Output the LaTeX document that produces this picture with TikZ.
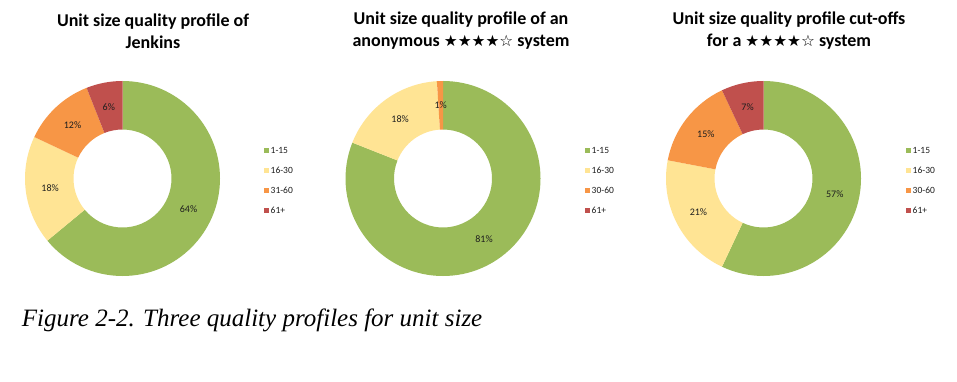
\documentclass[tikz,border=0pt]{standalone}
\usepackage{fontspec}
\setmainfont{Carlito}
\newfontfamily\capfont{Liberation Serif}
\newfontfamily\starfont{DejaVu Sans}
\definecolor{cgreen}{RGB}{155,187,89}
\definecolor{cyellow}{RGB}{255,228,148}
\definecolor{corange}{RGB}{247,150,70}
\definecolor{cred}{RGB}{192,80,77}
\definecolor{ctext}{RGB}{30,30,30}
\newcommand\donutseg[3]{\fill[#3] (#1:97.5) arc[start angle=#1,end angle=#2,radius=97.5] -- (#2:49) arc[start angle=#2,end angle=#1,radius=49] -- cycle;}
\newcommand\stars{{\starfont\fontsize{15.5}{18}\selectfont ★★★★☆}}
\tikzset{
  title/.style={font=\bfseries\fontsize{18}{22}\selectfont, align=center, text=black, inner sep=0pt},
  pct/.style={font=\fontsize{10}{12}\selectfont, text=ctext, inner sep=0pt},
  legtext/.style={font=\fontsize{9.5}{11}\selectfont, text=ctext, anchor=west, inner sep=0pt},
  legbox/.style={minimum size=5pt, inner sep=0pt, anchor=west},
  caption/.style={font=\capfont\itshape\fontsize{25}{29}\selectfont, anchor=base west, inner sep=0pt}
}
\begin{document}
\begin{tikzpicture}[x=1pt,y=1pt]
\useasboundingbox (0,0) rectangle (957,381);
\fill[white] (0,0) rectangle (957,381);
% Chart 1
\begin{scope}[shift={(122.5,202.5)}]
\donutseg{90}{-140.4}{cgreen}
\donutseg{-140.4}{-205.2}{cyellow}
\donutseg{-205.2}{-248.4}{corange}
\donutseg{-248.4}{-270}{cred}
\node[pct] (a1) at (-25.2:73) {64\%};
\node[pct] (a2) at (-172.8:73) {18\%};
\node[pct] (a3) at (-226.8:73) {12\%};
\node[pct] (a4) at (-259.2:73) {6\%};
\end{scope}
\node[title] (t1) at (153,350) {Unit size quality profile of\\Jenkins};
\node[legbox,fill=cgreen] (l1a) at (264,230.5) {};
\node[legbox,fill=cyellow] (l1b) at (264,210.5) {};
\node[legbox,fill=corange] (l1c) at (264,190.5) {};
\node[legbox,fill=cred] (l1d) at (264,170.5) {};
\node[legtext] (m1a) at (270.5,230.5) {1-15};
\node[legtext] (m1b) at (270.5,210.5) {16-30};
\node[legtext] (m1c) at (270.5,190.5) {31-60};
\node[legtext] (m1d) at (270.5,170.5) {61+};
% Chart 2
\begin{scope}[shift={(443,202.5)}]
\donutseg{90}{-201.6}{cgreen}
\donutseg{-201.6}{-266.4}{cyellow}
\donutseg{-266.4}{-270}{corange}
\node[pct] (b1) at (-55.8:73) {81\%};
\node[pct] (b2) at (126:73) {18\%};
\node[pct] (b3) at (91.8:73) {1\%};
\end{scope}
\node[title] (t2) at (461,350) {Unit size quality profile of an\\anonymous \stars{} system};
\node[legbox,fill=cgreen] (l2a) at (585,230.5) {};
\node[legbox,fill=cyellow] (l2b) at (585,210.5) {};
\node[legbox,fill=corange] (l2c) at (585,190.5) {};
\node[legbox,fill=cred] (l2d) at (585,170.5) {};
\node[legtext] (m2a) at (591.5,230.5) {1-15};
\node[legtext] (m2b) at (591.5,210.5) {16-30};
\node[legtext] (m2c) at (591.5,190.5) {30-60};
\node[legtext] (m2d) at (591.5,170.5) {61+};
% Chart 3
\begin{scope}[shift={(763.5,202.5)}]
\donutseg{90}{-115.2}{cgreen}
\donutseg{-115.2}{-190.8}{cyellow}
\donutseg{-190.8}{-244.8}{corange}
\donutseg{-244.8}{-270}{cred}
\node[pct] (c1) at (-12.6:73) {57\%};
\node[pct] (c2) at (-153:73) {21\%};
\node[pct] (c3) at (-217.8:73) {15\%};
\node[pct] (c4) at (-257.4:73) {7\%};
\end{scope}
\node[title] (t3) at (789,350) {Unit size quality profile cut-offs\\for a \stars{} system};
\node[legbox,fill=cgreen] (l3a) at (906,230.5) {};
\node[legbox,fill=cyellow] (l3b) at (906,210.5) {};
\node[legbox,fill=corange] (l3c) at (906,190.5) {};
\node[legbox,fill=cred] (l3d) at (906,170.5) {};
\node[legtext] (m3a) at (912.5,230.5) {1-15};
\node[legtext] (m3b) at (912.5,210.5) {16-30};
\node[legtext] (m3c) at (912.5,190.5) {30-60};
\node[legtext] (m3d) at (912.5,170.5) {61+};
% Caption
\node[caption] (cap) at (21.7,55) {Figure 2-2. Three quality profiles for unit size};
\end{tikzpicture}
\end{document}
